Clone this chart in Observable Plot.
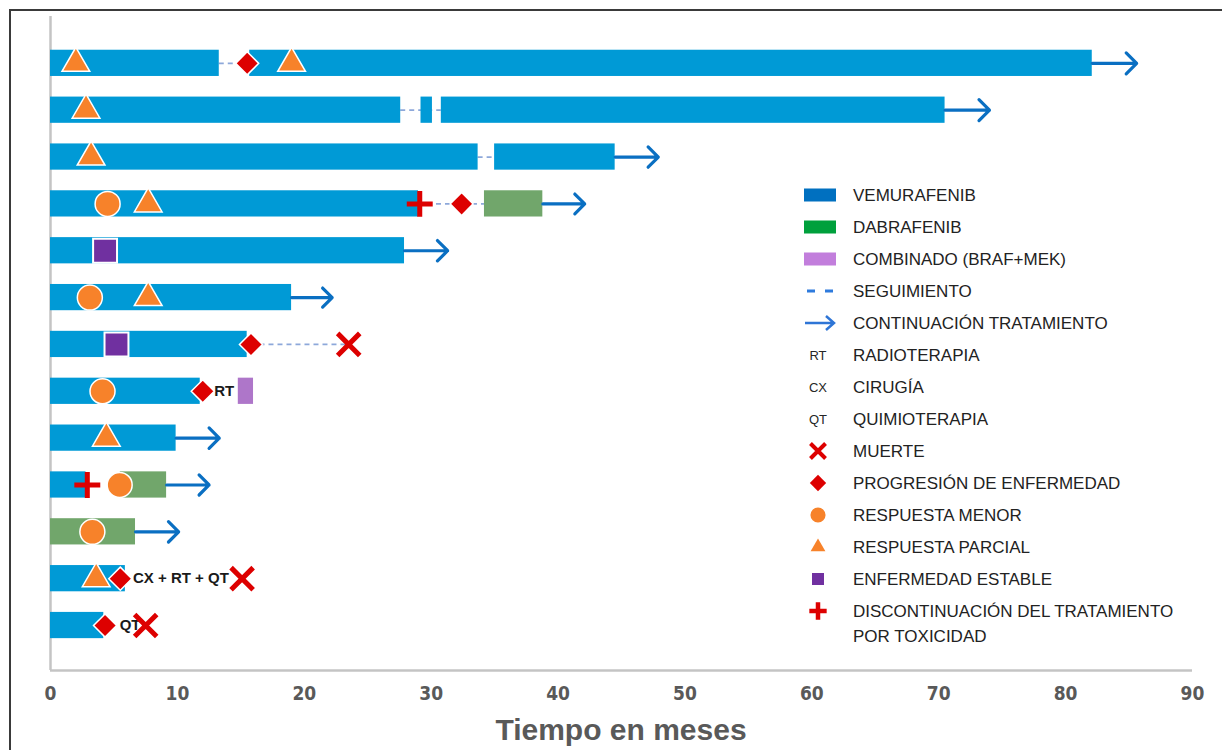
<!DOCTYPE html>
<html>
<head>
<meta charset="utf-8">
<script src="https://cdn.jsdelivr.net/npm/d3@7"></script>
<script src="https://cdn.jsdelivr.net/npm/@observablehq/plot@0.6"></script>
<style>
  body { margin: 0; background: #fff; }
  #wrap { position: relative; width: 1222px; height: 750px; overflow: hidden; font-family: "Liberation Sans", Arial, sans-serif; background: #fff; }
  #frame { position: absolute; left: 9px; top: 9px; right: -10px; bottom: -10px; border-top: 2px solid #3a3a3a; border-left: 2px solid #3a3a3a; }
  #chart { position: absolute; left: 0; top: 0; }
  #title { position: absolute; left: 50px; width: 1142px; top: 713px; text-align: center; font-size: 30px; line-height: 34px; font-weight: bold; color: #595959; }
  #legend { position: absolute; left: 800px; top: 179px; width: 420px; height: 480px; }
  .lrow { position: absolute; left: 0; height: 32px; width: 420px; }
  .lrow svg { position: absolute; left: 0; top: 0; }
  .lrow span { position: absolute; left: 53px; top: 3.5px; line-height: 25px; font-size: 17px; color: #222; white-space: pre; }
</style>
</head>
<body>
<div id="wrap">
  <div id="frame"></div>
  <div id="chart"></div>
  <div id="title">Tiempo en meses</div>
  <div id="legend"></div>
</div>
<script>
// ---------- DATA ----------
// Patients (rows, top to bottom)
const rows = [1, 2, 3, 4, 5, 6, 7, 8, 9, 10, 11, 12, 13];

// Treatment segments (months)
const segRow   = [1,    1,    2,    2,    2,    3,    3,    4,    5,    6,    7,    8,    9,   10,   12,   13,   4,    10,   11,   8];
const segStart = [0,    15.7, 0,    29.2, 30.8, 0,    35.0, 0,    0,    0,    0,    0,    0,    0,    0,    0,    34.2, 5.5,  0,    14.8];
const segEnd   = [13.3, 82.1, 27.6, 30.1, 70.5, 33.7, 44.5, 29.0, 27.9, 19.0, 15.5, 11.8, 9.9,  2.8,  5.9,  4.2,  38.8, 9.15, 6.7,  16.0];
const segDrug  = ["VEM","VEM","VEM","VEM","VEM","VEM","VEM","VEM","VEM","VEM","VEM","VEM","VEM","VEM","VEM","VEM","DAB","DAB","DAB","COMB"];

// Follow-up (dashed)
const folRow   = [1,    2,    3,    4,    7];
const folStart = [13.3, 27.6, 33.7, 29.0, 15.8];
const folEnd   = [15.7, 30.8, 35.0, 34.2, 23.5];

// Treatment continuation (arrows)
const contRow   = [1,    2,    3,    4,    5,    6,    9,    10,   11];
const contStart = [82.1, 70.5, 44.5, 38.8, 27.9, 19.0, 9.9,  9.15, 6.7];
const contEnd   = [85.6, 74.0, 47.9, 42.1, 31.3, 22.2, 13.3, 12.5, 10.1];

// Events
const evtRow  = [1,   1,    2,   3,   4,   6,   9,   12,  4,   6,   8,   10,  11,  1,    4,    7,    8,    12,  13,  5,   7,   4,    10,  7,    12,   13];
const evtTime = [2.0, 19.0, 2.8, 3.2, 7.7, 7.7, 4.4, 3.6, 4.5, 3.1, 4.1, 5.45,3.3, 15.5, 32.4, 15.8, 12.0, 5.5, 4.3, 4.3, 5.2, 29.1, 2.9, 23.5, 15.1, 7.5];
const evtType = ["parcial","parcial","parcial","parcial","parcial","parcial","parcial","parcial",
                 "menor","menor","menor","menor","menor",
                 "progresion","progresion","progresion","progresion","progresion","progresion",
                 "estable","estable",
                 "toxicidad","toxicidad",
                 "muerte","muerte","muerte"];

// Annotations
const noteRow  = [8,    12,            13];
const noteTime = [12.9, 6.5,           5.45];
const noteText = ["RT", "CX + RT + QT", "QT"];

// Axis ticks
const xTicks = [0, 10, 20, 30, 40, 50, 60, 70, 80, 90];

// Legend
const legendLabels = ["VEMURAFENIB", "DABRAFENIB", "COMBINADO (BRAF+MEK)", "SEGUIMIENTO", "CONTINUACIÓN TRATAMIENTO",
  "RADIOTERAPIA", "CIRUGÍA", "QUIMIOTERAPIA", "MUERTE", "PROGRESIÓN DE ENFERMEDAD", "RESPUESTA MENOR",
  "RESPUESTA PARCIAL", "ENFERMEDAD ESTABLE", "DISCONTINUACIÓN DEL TRATAMIENTO\nPOR TOXICIDAD"];
const legendKinds = ["rectVEM", "rectDAB", "rectCOMB", "dash", "arrow", "RT", "CX", "QT",
  "muerte", "progresion", "menor", "parcial", "estable", "toxicidad"];

// ---------- STYLES ----------
const barColor = {VEM: "#009AD6", DAB: "#71A66B", COMB: "#AE76C9"};
const legendRectColor = {rectVEM: "#0070C0", rectDAB: "#00A03C", rectCOMB: "#C27EDC"};
const RED = "#DD0000", ORANGE = "#F7822A", PURPLE = "#7030A0", ARROW = "#0A6FC2";

// ---------- BUILD ----------
const segs = segRow.map((r, i) => ({row: r, start: segStart[i], end: segEnd[i], drug: segDrug[i]}));
const fol  = folRow.map((r, i) => ({row: r, start: folStart[i], end: folEnd[i]}));
const cont = contRow.map((r, i) => ({row: r, start: contStart[i], end: contEnd[i]}));
const evts = evtRow.map((r, i) => ({row: r, time: evtTime[i], type: evtType[i]}));
const notes = noteRow.map((r, i) => ({row: r, time: noteTime[i], text: noteText[i]}));
const ev = t => evts.filter(d => d.type === t);
const H = 0.28;

const chart = Plot.plot({
  width: 1222,
  height: 750,
  marginLeft: 50,
  marginRight: 30,
  marginTop: 16,
  marginBottom: 80,
  style: {background: "transparent", fontFamily: "'Liberation Sans', Arial, sans-serif"},
  x: {domain: [0, 90], axis: null},
  y: {domain: [0, 13.96], reverse: true, axis: null},
  color: {type: "identity"},
  marks: [
    Plot.ruleX([0], {stroke: "#C4C4C4", strokeWidth: 2.5}),
    Plot.ruleY([13.96], {stroke: "#C4C4C4", strokeWidth: 2.5}),
    Plot.axisX({ticks: xTicks, tickSize: 0, tickPadding: 16, fontSize: 19, fontWeight: "bold",
      fontFamily: "'Liberation Sans Narrow', 'Arial Narrow', 'DejaVu Sans Condensed', sans-serif",
      fill: "#595959", label: null}),
    Plot.ruleY(fol, {y: "row", x1: "start", x2: "end", stroke: "#8DA8DA", strokeWidth: 1.8, strokeDasharray: "5,4"}),
    Plot.rect(segs, {x1: "start", x2: "end", y1: d => d.row - H, y2: d => d.row + H, fill: d => barColor[d.drug]}),
    Plot.arrow(cont, {x1: "start", x2: "end", y1: "row", y2: "row", stroke: ARROW, strokeWidth: 3.2, headLength: 7, headAngle: 90}),
    Plot.text(notes, {x: "time", y: "row", text: "text", textAnchor: "start", fontSize: 15, fontWeight: "bold", fill: "#1a1a1a"}),
    Plot.dot(ev("parcial"), {x: "time", y: "row", symbol: "triangle", r: 10.3, fill: ORANGE, stroke: "white", strokeWidth: 1.5}),
    Plot.dot(ev("menor"), {x: "time", y: "row", symbol: "circle", r: 12.5, fill: ORANGE, stroke: "white", strokeWidth: 1.5}),
    Plot.dot(ev("estable"), {x: "time", y: "row", symbol: "square", r: 13.5, fill: PURPLE, stroke: "white", strokeWidth: 2}),
    Plot.dot(ev("progresion"), {x: "time", y: "row", symbol: "diamond2", r: 10.4, fill: RED, stroke: "white", strokeWidth: 1.5}),
    Plot.dot(ev("toxicidad"), {x: "time", y: "row", symbol: "plus", r: 8.4, fill: "none", stroke: RED, strokeWidth: 5}),
    Plot.dot(ev("muerte"), {x: "time", y: "row", symbol: "times", r: 10.1, fill: "none", stroke: RED, strokeWidth: 5})
  ]
});
document.getElementById("chart").appendChild(chart);

// ---------- LEGEND ----------
const legend = d3.select("#legend");
legendLabels.forEach((label, i) => {
  const kind = legendKinds[i];
  const row = legend.append("div").attr("class", "lrow").style("top", (i * 32) + "px");
  const svg = row.append("svg").attr("width", 44).attr("height", 32);
  const cx = 20, cy = 16;
  if (kind.startsWith("rect")) {
    svg.append("rect").attr("x", 4).attr("y", cy - 6.5).attr("width", 32).attr("height", 13).attr("fill", legendRectColor[kind]);
  } else if (kind === "dash") {
    svg.append("line").attr("x1", 7).attr("x2", 36).attr("y1", cy).attr("y2", cy)
      .attr("stroke", "#2E7BDD").attr("stroke-width", 3).attr("stroke-dasharray", "8,10");
  } else if (kind === "arrow") {
    svg.append("path").attr("d", `M5,${cy}H34M26,${cy - 7}L34,${cy}L26,${cy + 7}`)
      .attr("fill", "none").attr("stroke", "#2E75D6").attr("stroke-width", 2.5);
  } else if (kind === "RT" || kind === "CX" || kind === "QT") {
    svg.append("text").attr("x", cx - 2).attr("y", cy).attr("dy", "0.36em").attr("text-anchor", "middle")
      .attr("font-size", 13).attr("fill", "#262626").text(kind);
  } else {
    const map = {
      muerte: [d3.symbolTimes, 150, "none", RED, 4],
      progresion: [d3.symbolDiamond2, 170, RED, "none", 0],
      menor: [d3.symbolCircle, 180, ORANGE, "none", 0],
      parcial: [d3.symbolTriangle, 95, ORANGE, "none", 0],
      estable: [d3.symbolSquare, 144, PURPLE, "none", 0],
      toxicidad: [d3.symbolPlus, 100, "none", RED, 4.5]
    };
    const [sym, size, fill, stroke, sw] = map[kind];
    svg.append("path").attr("transform", `translate(${cx - 2},${cy})`)
      .attr("d", d3.symbol(sym, size)()).attr("fill", fill).attr("stroke", stroke).attr("stroke-width", sw);
  }
  row.append("span").text(label);
});
</script>
</body>
</html>
